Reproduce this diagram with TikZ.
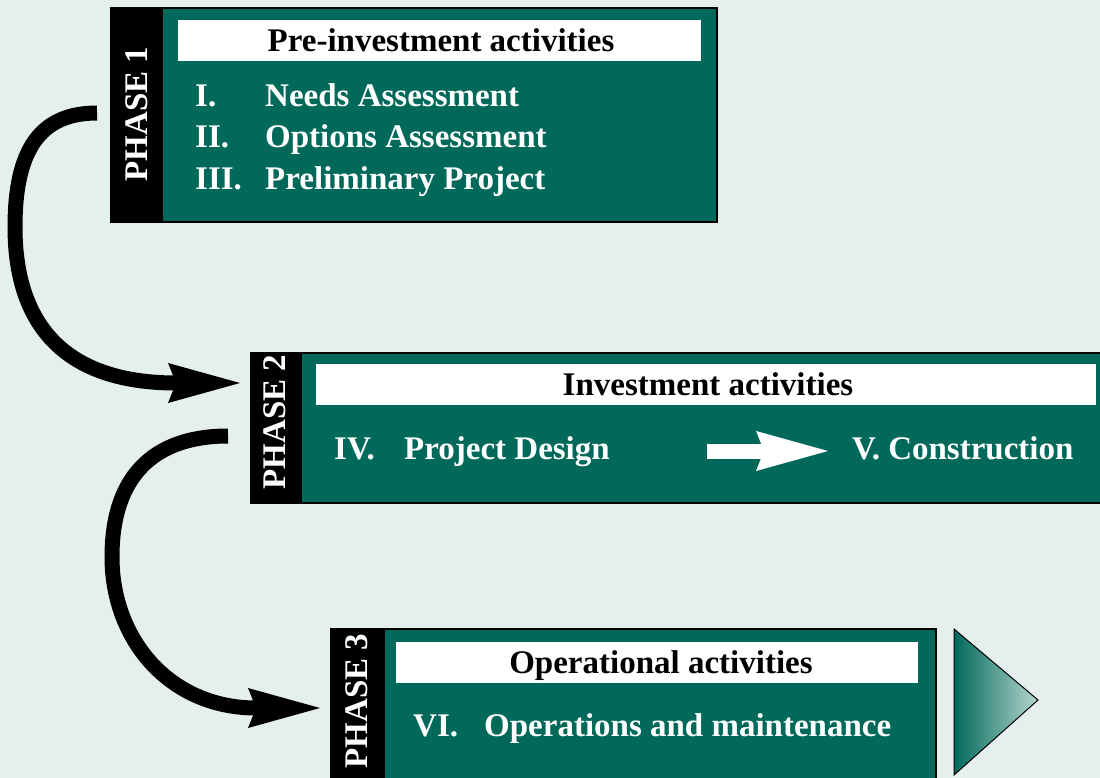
\documentclass[tikz,border=0pt]{standalone}
\usepackage{fontspec}
\setmainfont{Liberation Serif}
\usepackage{xcolor}
\usetikzlibrary{arrows.meta, positioning}
\definecolor{bgcol}{RGB}{229,239,237}
\definecolor{phasegreen}{RGB}{0,105,90}
\definecolor{palegreen}{RGB}{182,214,206}

\begin{document}
\begin{tikzpicture}[x=1pt, y=-1pt,
        panel/.style={rectangle, fill=phasegreen, draw=black, line width=2pt, anchor=north west, inner sep=0pt},
        band/.style={rectangle, fill=black, anchor=north west, inner sep=0pt},
        titlebar/.style={rectangle, fill=white, anchor=north west, inner sep=0pt, minimum height=41pt},
        phase/.style={text=white, rotate=90, inner sep=0pt, font=\bfseries\fontsize{33}{40}\selectfont},
        heading/.style={text=black, anchor=base, inner sep=0pt, font=\bfseries\fontsize{33}{40}\selectfont},
        item/.style={text=white, anchor=base west, inner sep=0pt, text height=23pt, text depth=7pt, font=\bfseries\fontsize{33}{40}\selectfont},
        flow/.style={draw=black, line width=15pt, -{Stealth[length=72pt, width=40pt, inset=8pt, line width=0pt]}}]

        \useasboundingbox (0,0) rectangle (1100,778);
        \fill[bgcol] (0,0) rectangle (1100,778);

        % Phase 1
        \node [panel, minimum width=606pt, minimum height=214pt] (panel1) at (110,7) {};
        \node [band, minimum width=53pt, minimum height=214pt] (band1) at (110,7) {};
        \node [titlebar, minimum width=523pt] (title1) at (178,20) {};
        \node [phase] (phase1) at (136.5,114) {PHASE 1};
        \node [heading] (head1) at (441,52) {Pre-investment activities};
        \node [item] (num1) at (195,107) {I.};
        \node [item] (needs) at (265,107) {Needs Assessment};
        \node [item] (num2) at (195,148) {II.};
        \node [item] (options) at (265,148) {Options Assessment};
        \node [item] (num3) at (195,190) {III.};
        \node [item] (prelim) at (265,190) {Preliminary Project};

        % Phase 2
        \node [panel, minimum width=870pt, minimum height=150pt] (panel2) at (250,352) {};
        \node [band, minimum width=52pt, minimum height=150pt] (band2) at (250,352) {};
        \node [titlebar, minimum width=780pt] (title2) at (316,364) {};
        \node [phase] (phase2) at (275,422) {PHASE 2};
        \node [heading] (head2) at (708,395) {Investment activities};
        \node [item] (num4) at (334,459) {IV.};
        \node [item] (design) at (404,459) {Project Design};
        \node [item] (construct) at (852,459) {V. Construction};

        % Phase 3
        \node [panel, minimum width=552pt, minimum height=170pt] (panel3) at (383,628) {};
        \node [band, minimum width=53pt, minimum height=170pt] (band3) at (330,628) {};
        \node [titlebar, minimum width=522pt] (title3) at (396,642) {};
        \node [phase] (phase3) at (356.5,701) {PHASE 3};
        \node [heading] (head3) at (661,673) {Operational activities};
        \node [item] (num6) at (413,736) {VI.};
        \node [item] (operate) at (484,736) {Operations and maintenance};

        % Next
        \shadedraw [left color=phasegreen, right color=palegreen, draw=black, line width=1pt]
            (954,629) -- (1038,700) -- (954,775) -- cycle;

        % Edges
        \coordinate (start1) at (97,113);
        \coordinate (start2) at (228,436);
        \draw [flow] (start1) .. controls (40,113) and (15,150) .. (15,227)
            .. controls (15,330) and (70,383) .. ([shift={(-10,31)}]band2.north west);
        \draw [flow] (start2) .. controls (160,436) and (112,470) .. (112,557)
            .. controls (112,640) and (170,708) .. ([shift={(-10,80)}]band3.north west);
        \draw [flow, draw=white] ([xshift=97pt]design.east) -- ([xshift=-24pt]construct.west);

    \end{tikzpicture}
\end{document}
